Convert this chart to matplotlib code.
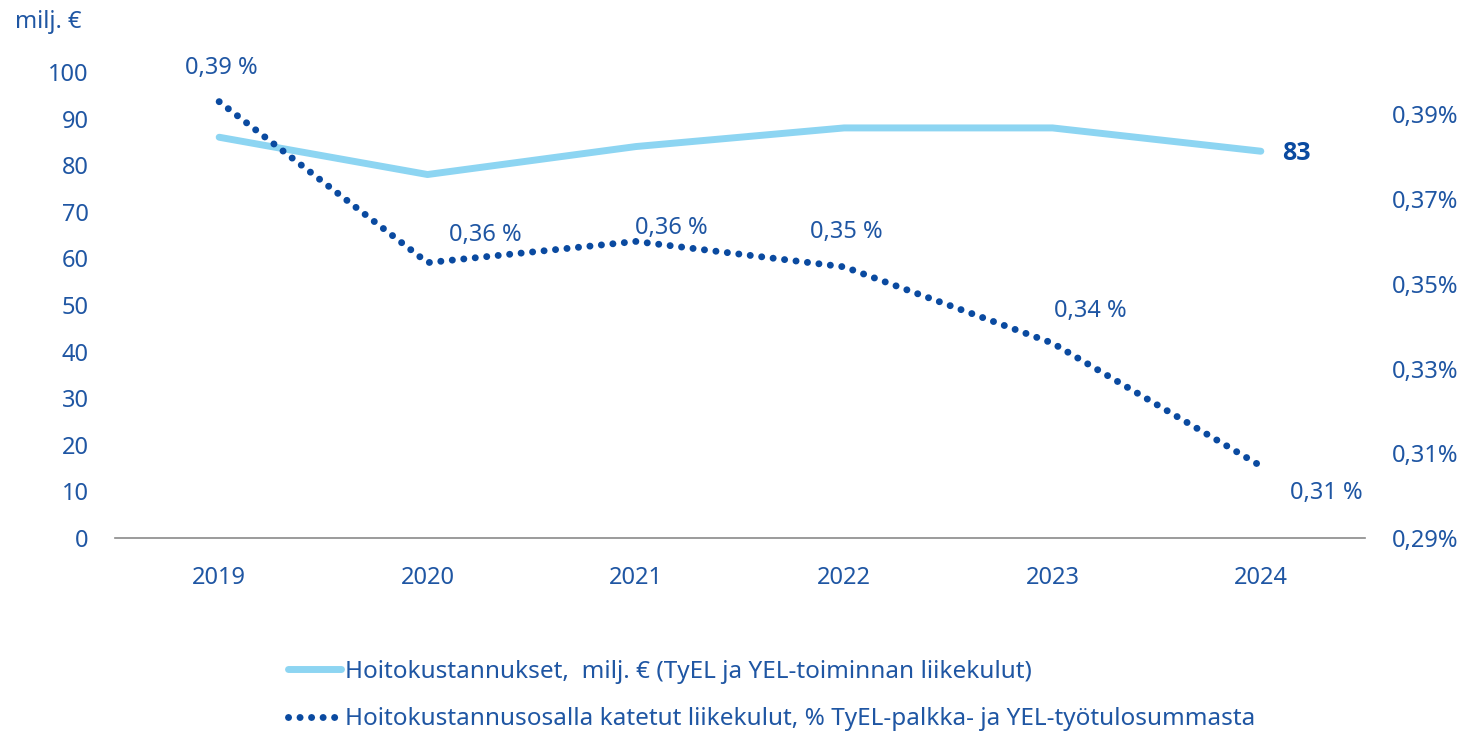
import matplotlib
matplotlib.use("Agg")
import matplotlib.pyplot as plt
from matplotlib.ticker import FuncFormatter

# data
years = ["2019", "2020", "2021", "2022", "2023", "2024"]
costs = [86, 78, 84, 88, 88, 83]
cost_share = [0.393, 0.355, 0.360, 0.354, 0.336, 0.307]
share_labels = ["0,39 %", "0,36 %", "0,36 %", "0,35 %", "0,34 %", "0,31 %"]
left_ticks = [0, 10, 20, 30, 40, 50, 60, 70, 80, 90, 100]
right_ticks = [0.29, 0.31, 0.33, 0.35, 0.37, 0.39]

label_cost = "Hoitokustannukset,  milj. € (TyEL ja YEL-toiminnan liikekulut)"
label_share = "Hoitokustannusosalla katetut liikekulut, % TyEL-palkka- ja YEL-työtulosummasta"

TEXT = "#1f56a3"
LIGHT = "#8dd5f2"
DARK = "#0a4aa0"
FS = 17

plt.rcParams["font.family"] = ["Noto Sans", "DejaVu Sans"]
plt.rcParams["font.size"] = FS


def main():
    fig = plt.figure(figsize=(14.65, 7.34), dpi=100)
    ax = fig.add_axes([115 / 1465, 1 - 538 / 734, 1250 / 1465, 466 / 734])
    ax2 = ax.twinx()

    x = list(range(len(years)))

    # lines
    l1, = ax.plot(x, costs, color=LIGHT, linewidth=5, solid_capstyle="round", zorder=2)
    l2, = ax2.plot(x, cost_share, color=DARK, linewidth=5,
                   linestyle=(0, (0.01, 1.65)), dash_capstyle="round", zorder=3)

    # axes
    ax.set_xlim(-0.5, len(years) - 0.5)
    ax.set_ylim(0, 100)
    ax2.set_ylim(0.29, 0.40)
    ax.set_xticks(x)
    ax.set_xticklabels(years)
    ax.set_yticks(left_ticks)
    ax2.set_yticks(right_ticks)
    ax2.yaxis.set_major_formatter(FuncFormatter(lambda v, p: f"{v:.2f}%".replace(".", ",")))

    for a in (ax, ax2):
        for s in a.spines.values():
            s.set_visible(False)
        a.tick_params(length=0, colors=TEXT, labelsize=FS)
    ax.spines["bottom"].set_visible(True)
    ax.spines["bottom"].set_color("#8a8a8a")
    ax.spines["bottom"].set_linewidth(1.2)
    ax.tick_params(axis="x", pad=20)
    ax.tick_params(axis="y", pad=19)
    ax2.tick_params(axis="y", pad=19)

    # data labels
    offsets = [(2, 34), (58, 28), (35, 13), (2, 35), (38, 32), (65, -27)]
    for xi, v, txt, off in zip(x, cost_share, share_labels, offsets):
        ax2.annotate(txt, (xi, v), xytext=off, textcoords="offset pixels",
                     ha="center", va="center", color=TEXT, fontsize=FS)
    ax.annotate(str(costs[-1]), (x[-1], costs[-1]), xytext=(36, -2),
                textcoords="offset pixels", ha="center", va="center",
                color=DARK, fontsize=FS + 1, fontweight="bold",
                family=["Open Sans", "DejaVu Sans"])

    fig.text(48 / 1465, 1 - 22 / 734, "milj. €", ha="center", va="center",
             color=TEXT, fontsize=FS)

    # legend
    fig.legend([l1, l2], [label_cost, label_share], loc="upper left",
               bbox_to_anchor=(288 / 1465, 1 - 660 / 734), frameon=False,
               handlelength=2.2, handletextpad=0.15, labelspacing=0.95,
               labelcolor=TEXT, fontsize=FS + 0.5, borderpad=0, borderaxespad=0)

    fig.savefig("out.png", dpi=100)


if __name__ == "__main__":
    main()
